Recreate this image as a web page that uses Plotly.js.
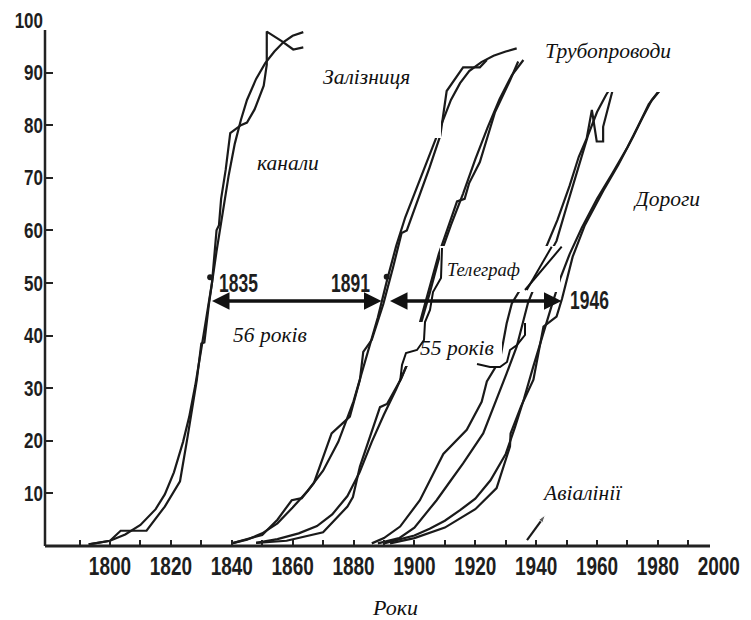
<!DOCTYPE html>
<html><head><meta charset="utf-8">
<script src="https://cdn.plot.ly/plotly-3.0.1.min.js"></script>
<style>body{margin:0;background:#fff}#chart{width:751px;height:620px}</style>
</head><body><div id="chart"></div><script>
// ---- data (year, % of saturation) ----
const canalFitYears  = [1793,1800,1805,1810,1815,1818,1821,1824,1826,1828,1830,1832,1833.5,1835,1837,1839,1841,1843,1845,1848,1851,1854,1857,1860,1863.5];
const canalFitValues = [0.3,1.0,2.2,4.0,7.0,9.8,14.0,19.8,24.5,30.5,37.5,44.5,50,56,63.5,70.5,76.5,81,84.8,88.8,91.8,94.0,95.8,97.0,97.7];
const canalDataYears  = [1793,1800,1803.5,1812,1818,1823,1825.5,1828.5,1830,1831,1832.5,1833.5,1835,1835.8,1836.5,1838,1839.5,1841.5,1843,1845,1847.5,1850.5,1851.5,1851.5,1856.4,1860.2,1863.5];
const canalDataValues = [0.3,1.0,2.9,2.9,7.5,12.3,20.8,31.5,38.5,38.7,46,50,60,61,66,71.5,78.5,79.3,80,80.5,83,87.5,91.5,97.8,96.0,94.4,94.8];

const railFitYears  = [1840,1845,1850,1855,1860,1865,1870,1875,1880,1884,1888,1891,1894,1897,1900,1903,1906,1909,1912,1915,1918,1922,1926,1930,1933.6];
const railFitValues = [0.5,1.2,2.4,4.3,7.3,10.5,14.3,19.8,27.5,35.5,43.5,50.5,57,62.5,67,71.5,76,80.5,84.8,88,90.3,92,93.2,94,94.6];
const railDataYears  = [1840,1850,1855,1859.7,1863,1867,1872.8,1878.8,1882.1,1883.2,1886,1889.8,1893,1895.8,1897.5,1901,1905,1908.5,1910.6,1916,1921.5,1923.8];
const railDataValues = [0.5,2.1,5,8.7,9.1,12,21.4,24.6,31.6,36.9,39.2,46,53,59.5,60,65.5,72,78,86.5,91,91,92.4];

const telegraphFitYears  = [1848,1855,1862,1868,1873,1878,1882,1886,1890,1894,1898,1902,1905,1908,1912,1916,1920,1924,1928,1932,1935.8];
const telegraphFitValues = [0.6,1.3,2.4,3.8,6,9.5,14,19.8,25,29.8,35,42,48,54.5,61,67,73.5,79.5,85,89.5,92.4];
const telegraphDataYears  = [1848,1858,1870,1878,1879.8,1882.1,1888.7,1891,1895.8,1899,1903,1908,1912.5,1914,1916.5,1918,1921.5,1926.5,1931.4,1934.1];
const telegraphDataValues = [0.6,1.0,2.6,7.5,9.3,15.1,26.4,27,32,36.5,45,55.5,63,65.5,66,69,73,82.5,88.5,92.1];

const pipelineFitYears  = [1888,1895,1900,1907.3,1912,1916,1922.6,1927,1930.3,1933.6,1937.3,1942,1946.7,1950,1953.5,1957,1960,1963,1966];
const pipelineFitValues = [0.5,1.5,3.5,8.7,12.5,15.7,21.4,27.8,32.8,37.9,46.2,53,58,64.5,71.5,78,82.5,85.8,88.5];
const pipelineDataYears  = [1886,1890,1895.3,1901.8,1909.5,1917.2,1922.1,1923.8,1928.1,1930.3,1932,1937,1943.4,1947,1951,1954,1956.6,1958.3,1959.9,1962,1962,1965.5];
const pipelineDataValues = [0.5,1.5,3.7,8.7,17.5,22.1,27.4,31.3,35.4,42.3,46.1,51,57,62,68.5,74,77.5,82.9,76.9,76.9,79.7,87.5];

const roadFitYears  = [1890,1900,1905,1910,1915,1920,1925,1930,1933,1936,1939,1942,1945,1948,1951,1955,1960,1965,1970,1975,1978,1981];
const roadFitValues = [0.5,2,3.3,4.8,6.8,9,12.5,17.5,22.5,28,34,40,45.5,51,55.5,60.5,66,70.8,75.8,81.5,84.8,87];
const roadDataYears  = [1892,1900,1910,1920,1927,1931.4,1931.6,1935,1939.1,1942.4,1946.7,1948.5,1952,1956,1962,1967,1972,1977,1980.5];
const roadDataValues = [0.5,1.5,3.5,7,11,18.9,21.4,26.5,31.6,41.7,43.6,47,55,61,67.5,72.5,78,84,86.5];

const airYears  = [1937, 1943];
const airValues = [1.1, 5.9];

const dotYears  = [1832.9, 1890.9];
const dotValues = [51.1, 51.2];

const tickYears    = [1790,1800,1810,1820,1830,1840,1850,1860,1870,1880,1890,1900,1910,1920,1930,1940,1950,1960,1970,1980,1990];
const labelYears   = [1800,1820,1840,1860,1880,1900,1920,1940,1960,1980,2000];
const yTickValues  = [10,20,30,40,50,60,70,80,90];
const yLabelValues = [10,20,30,40,50,60,70,80,90,100];

// ---- geometry helpers (pixel -> paper) ----
const ML = 45, MR = 31, MT = 20, MB = 74, W = 751, H = 620;
const PW = W - ML - MR, PH = H - MT - MB, BOTTOM = H - MB;
const pxPerYear = 3.044;
const xMin = 1800 - (110 - ML) / pxPerYear;
const xMax = xMin + PW / pxPerYear;
const X = px => (px - ML) / PW;
const Y = py => (BOTTOM - py) / PH;
const pathPx = pts => pts.map((p, i) => (i ? 'L' : 'M') + X(p[0]).toFixed(5) + ',' + Y(p[1]).toFixed(5)).join(' ');

const INK = '#1a1a1a';
const line = (x, y) => ({x, y, type: 'scatter', mode: 'lines', line: {color: INK, width: 2.2}, hoverinfo: 'skip', showlegend: false});

const traces = [
  line(canalFitYears, canalFitValues), line(canalDataYears, canalDataValues),
  line(railFitYears, railFitValues), line(railDataYears, railDataValues),
  line(telegraphFitYears, telegraphFitValues), line(telegraphDataYears, telegraphDataValues),
  line(pipelineFitYears, pipelineFitValues), line(pipelineDataYears, pipelineDataValues),
  line(roadFitYears, roadFitValues), line(roadDataYears, roadDataValues),
  {x: airYears, y: airValues, type: 'scatter', mode: 'lines+markers', line: {color: INK, width: 2.2},
   marker: {symbol: ['circle', 'arrow'], size: [0, 8], color: INK, angleref: 'previous'}, hoverinfo: 'skip', showlegend: false},
  {x: dotYears, y: dotValues, type: 'scatter', mode: 'markers', marker: {color: INK, size: 6}, hoverinfo: 'skip', showlegend: false},
  // carriers for the label-only overlay axes
  {x: labelYears, y: labelYears.map(() => 0), xaxis: 'x2', yaxis: 'y', type: 'scatter', mode: 'markers', marker: {opacity: 0}, hoverinfo: 'skip', showlegend: false},
  {x: yLabelValues.map(() => xMin), y: yLabelValues, xaxis: 'x', yaxis: 'y2', type: 'scatter', mode: 'markers', marker: {opacity: 0}, hoverinfo: 'skip', showlegend: false}
];

const numFamily = 'Liberation Sans, Arial, sans-serif';
const numFont = {family: numFamily, weight: 700, color: '#1e1e1e'};
const itFont = {family: 'Liberation Serif, Times New Roman, serif', color: '#111', size: 21.5};

const txt = (px, py, text, size) => ({xref: 'paper', yref: 'paper', x: X(px), y: Y(py), xanchor: 'center', yanchor: 'middle',
  text: '<i>' + text + '</i>', showarrow: false, font: Object.assign({}, itFont, {size: size || 21.5})});
const num = (px, py, text) => ({xref: 'paper', yref: 'paper', x: X(px), y: Y(py), xanchor: 'center', yanchor: 'middle',
  text: text, showarrow: false, font: Object.assign({}, numFont, {size: 17.5})});
const arrow = (pxL, pxR, py) => ({xref: 'paper', yref: 'paper', x: X(pxL), y: Y(py), ax: pxR - pxL, ay: 0, text: '',
  showarrow: true, arrowhead: 2, startarrowhead: 2, arrowside: 'end+start', arrowsize: 1, startarrowsize: 1, arrowwidth: 3.5, arrowcolor: '#111', standoff: 0, startstandoff: 0});

const whiteBox = (x0, y0, x1, y1) => ({type: 'rect', xref: 'paper', yref: 'paper', x0: X(x0), x1: X(x1), y0: Y(y1), y1: Y(y0),
  fillcolor: '#ffffff', line: {width: 0}, layer: 'above'});
const ink = (pts, w) => ({type: 'path', xref: 'paper', yref: 'paper', path: pathPx(pts), line: {color: '#111', width: w || 2}, layer: 'above'});

const layout = {
  width: W, height: H, margin: {l: ML, r: MR, t: MT, b: MB},
  paper_bgcolor: '#fff', plot_bgcolor: '#fff', showlegend: false,
  xaxis: {range: [xMin, xMax], showgrid: false, zeroline: false, showline: false, showticklabels: false,
    tickmode: 'array', tickvals: tickYears, ticks: 'inside', ticklen: 6, tickwidth: 2, tickcolor: '#222'},
  xaxis2: {range: [xMin, xMax], overlaying: 'x', anchor: 'y', side: 'bottom', showgrid: false, zeroline: false, showline: false,
    tickmode: 'array', tickvals: labelYears, ticks: '', tickangle: 0, ticklabelstandoff: 6, tickfont: Object.assign({}, numFont, {size: 19})},
  yaxis: {range: [0, 100], showgrid: false, zeroline: false, showline: false, showticklabels: false,
    tickmode: 'array', tickvals: yTickValues, ticks: 'inside', ticklen: 8, tickwidth: 2, tickcolor: '#222'},
  yaxis2: {range: [0, 100], overlaying: 'y', anchor: 'x', side: 'left', showgrid: false, zeroline: false, showline: false,
    tickmode: 'array', tickvals: yLabelValues, ticks: '', tickangle: 0, ticklabelstandoff: 1, tickfont: Object.assign({}, numFont, {size: 17})},
  shapes: [
    {type: 'line', xref: 'paper', yref: 'paper', x0: 0, x1: X(710), y0: 0, y1: 0, line: {color: '#222', width: 3}},
    {type: 'line', xref: 'paper', yref: 'paper', x0: 0, x1: 0, y0: 0, y1: Y(30), line: {color: '#222', width: 2.5}},
    whiteBox(290, 62, 441, 138),
    whiteBox(528, 8, 722, 92),
    whiteBox(440, 246, 560, 292),
    whiteBox(405, 322, 502, 366),
    ink([[442,248],[441,278],[433,292],[430,310],[425,322],[424,340],[417,350],[406,353],[402,365],[400,382]]),
    ink([[525,323],[525,335],[517,345],[510,350],[507,362],[500,367],[490,367],[477,364]]),
    ink([[561.7,246.7],[525,290]]),
    ink([[551.7,246.7],[526.7,290]])
  ],
  annotations: [
    arrow(212, 383, 301),
    arrow(390, 563, 301),
    num(238, 283, '1835'), num(350, 283, '1891'), num(589, 300, '1946'),
    txt(366, 77, 'Залізниця'),
    txt(608, 51, 'Трубопроводи'),
    txt(288, 163, 'канали'),
    txt(666, 199, 'Дороги'),
    txt(483, 270, 'Телеграф', 18.5),
    txt(270, 335, '56 років'),
    txt(457, 348, '55 років'),
    txt(582, 493, 'Авіалінії'),
    txt(395, 607, 'Роки', 22)
  ]
};

// stretch the bold numerals vertically (the original uses a tall condensed face)
function stretch(el, sx, sy) {
  const bb = el.getBBox();
  const cx = bb.x + bb.width / 2, cy = bb.y + bb.height / 2;
  const t = el.getAttribute('transform') || '';
  el.setAttribute('transform', t + ' translate(' + cx + ',' + cy + ') scale(' + sx + ',' + sy + ') translate(' + (-cx) + ',' + (-cy) + ')');
}

Plotly.newPlot('chart', traces, layout, {staticPlot: true}).then(gd => {
  gd.querySelectorAll('.x2tick text').forEach(el => stretch(el, 1, 1.4));
  gd.querySelectorAll('.y2tick text').forEach(el => stretch(el, 1, 1.3));
  gd.querySelectorAll('text.annotation-text').forEach(el => {
    if (/^\d{4}$/.test(el.textContent.trim())) stretch(el, 1, 1.5);
  });
});
</script></body></html>
